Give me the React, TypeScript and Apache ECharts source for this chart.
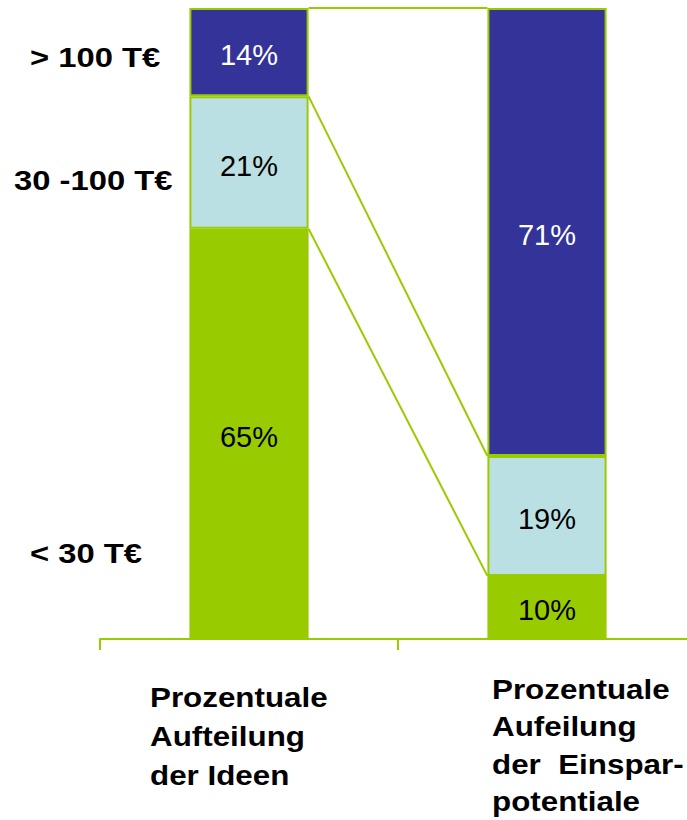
import React, { useEffect, useRef } from "react";
import * as echarts from "echarts";

const categories = ["Prozentuale\nAufteilung\nder Ideen", "Prozentuale\nAufeilung\nder  Einspar-\npotentiale"];
const groupNames = ["< 30 T€", "30 -100 T€", "> 100 T€"];
const lowShare = [65, 10];
const midShare = [21, 19];
const highShare = [14, 71];

const GREEN = "#99CC00";
const LIGHT = "#BBE0E3";
const DARK = "#333399";
const FONT = "'Liberation Sans', Arial, sans-serif";

export default function App() {
  const ref = useRef<HTMLDivElement>(null);
  useEffect(() => {
    if (!ref.current) return;
    const chart = echarts.init(ref.current, null, { renderer: "svg" });
    const connectors = [
      [0, 100, 100],
      [0, lowShare[0] + midShare[0], lowShare[1] + midShare[1]],
      [0, lowShare[0], lowShare[1]],
    ];
    const barSeries = (name: string, data: number[], color: string, labelColor: string) => ({
      type: "bar",
      name,
      stack: "total",
      data,
      barWidth: "40%",
      itemStyle: { color, borderColor: GREEN, borderWidth: 2 },
      label: {
        show: true,
        position: "inside",
        formatter: "{c}%",
        color: labelColor,
        fontSize: 29,
        fontFamily: FONT,
        textBorderWidth: 0,
        offset: [0, 3],
      },
    });
    const sideLabel = (text: string, x: number, y: number) => ({
      type: "text",
      x,
      y,
      scaleX: 1.17,
      style: { text, font: `bold 28px ${FONT}`, fill: "#000", align: "left", verticalAlign: "middle" },
    });
    chart.setOption({
      animation: false,
      backgroundColor: "#ffffff",
      grid: { left: 100, top: 8, width: 596, height: 631, outerBoundsMode: "none" },
      xAxis: {
        type: "category",
        data: categories,
        axisLine: { lineStyle: { color: GREEN, width: 2 } },
        axisTick: { show: true, length: 11, lineStyle: { color: GREEN, width: 2 } },
        axisLabel: { show: false },
      },
      yAxis: { type: "value", min: 0, max: 100, show: false, splitLine: { show: false } },
      series: [
        barSeries(groupNames[0], lowShare, GREEN, "#000000"),
        barSeries(groupNames[1], midShare, LIGHT, "#000000"),
        barSeries(groupNames[2], highShare, DARK, "#ffffff"),
        {
          type: "custom",
          data: connectors,
          encode: { x: 0, y: 1 },
          z: 5,
          renderItem: (params: any, api: any) => {
            const bandW = api.size([1, 0])[0];
            const barW = bandW * 0.4;
            const p0 = api.coord([0, api.value(1)]);
            const p1 = api.coord([1, api.value(2)]);
            return {
              type: "line",
              shape: { x1: p0[0] + barW / 2, y1: p0[1], x2: p1[0] - barW / 2, y2: p1[1] },
              style: { stroke: GREEN, lineWidth: 2 },
            };
          },
        },
      ],
      graphic: [
        sideLabel(groupNames[2], 30, 57),
        sideLabel(groupNames[1], 14, 180),
        sideLabel(groupNames[0], 30, 553),
        {
          type: "text",
          x: 150,
          y: 678,
          scaleX: 1.12,
          style: { text: categories[0], font: `bold 28px ${FONT}`, lineHeight: 39, fill: "#000", align: "left", verticalAlign: "top" },
        },
        {
          type: "text",
          x: 492,
          y: 670,
          scaleX: 1.12,
          style: { text: categories[1], font: `bold 28px ${FONT}`, lineHeight: 37.5, fill: "#000", align: "left", verticalAlign: "top" },
        },
      ],
    });
    return () => chart.dispose();
  }, []);
  return (
    <div
      ref={ref}
      style={{ position: "absolute", left: 0, top: 0, width: 687, height: 820, overflow: "hidden" }}
    />
  );
}
